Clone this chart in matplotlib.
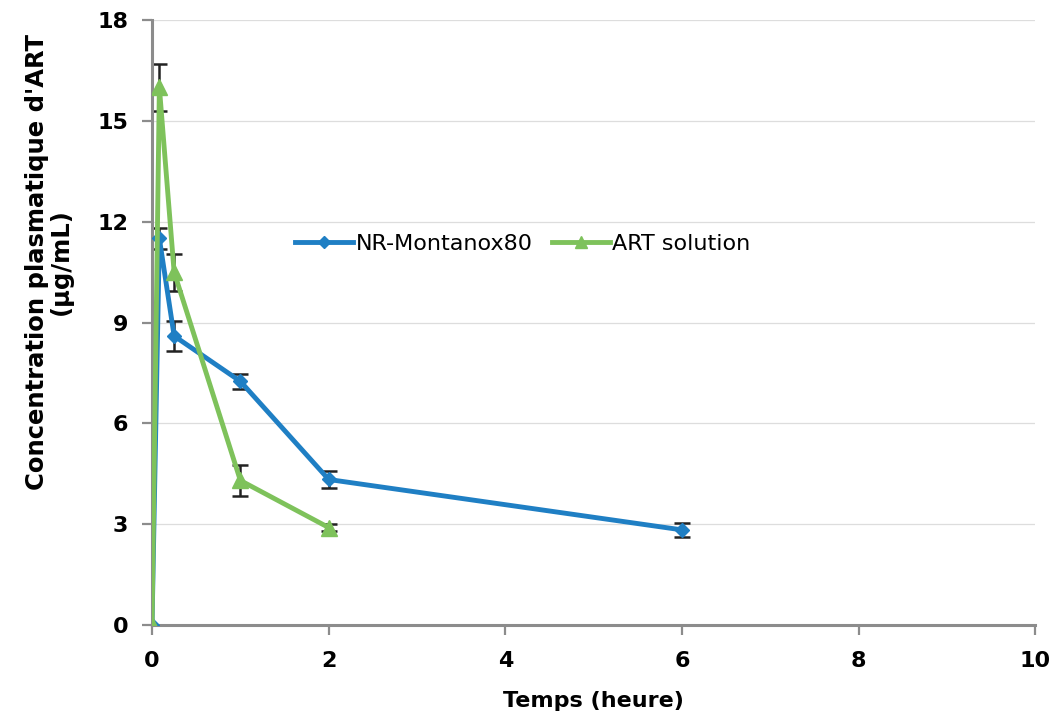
import matplotlib.pyplot as plt

# time points (hours)
t_nr = [0, 0.083, 0.25, 1, 2, 6]
c_nr = [0, 11.5, 8.6, 7.25, 4.33, 2.83]
err_nr = [0, 0.3, 0.45, 0.22, 0.25, 0.2]

t_sol = [0, 0.083, 0.25, 1, 2]
c_sol = [0, 16.0, 10.5, 4.3, 2.9]
err_sol = [0, 0.7, 0.55, 0.45, 0.1]

x_ticks = [0, 2, 4, 6, 8, 10]
y_ticks = [0, 3, 6, 9, 12, 15, 18]

BLUE = "#1f7fc4"
GREEN = "#7ec25b"
AXIS_GREY = "#8c8c8c"

plt.rcParams["font.family"] = "DejaVu Sans"

fig = plt.figure(figsize=(10.58, 7.22), dpi=100)
ax = fig.add_axes([0.1437, 0.1343, 0.835, 0.838])

ax.errorbar(t_nr, c_nr, yerr=err_nr, fmt="none", ecolor="#222222", elinewidth=1.8,
            capsize=6, capthick=1.8, zorder=2)
ax.errorbar(t_sol, c_sol, yerr=err_sol, fmt="none", ecolor="#222222", elinewidth=1.8,
            capsize=6, capthick=1.8, zorder=2)

ax.plot(t_nr, c_nr, color=BLUE, lw=3.5, marker="D", ms=7.5, label="NR-Montanox80", zorder=3)
ax.plot(t_sol, c_sol, color=GREEN, lw=3.5, marker="^", ms=11, label="ART solution", zorder=4)

ax.set_xlim(0, 10)
ax.set_ylim(0, 18)
ax.set_xticks(x_ticks)
ax.set_yticks(y_ticks)
ax.tick_params(axis="both", labelsize=16, colors=AXIS_GREY, width=1.6, length=7)
ax.tick_params(axis="x", pad=12)
ax.tick_params(axis="y", pad=10)
for lab in ax.get_xticklabels() + ax.get_yticklabels():
    lab.set_fontweight("bold")
    lab.set_color("black")

ax.grid(axis="y", color="#dddddd", lw=0.9)
ax.set_axisbelow(True)
for s in ["top", "right"]:
    ax.spines[s].set_visible(False)
for s in ["left", "bottom"]:
    ax.spines[s].set_color(AXIS_GREY)
    ax.spines[s].set_linewidth(2.2)

ax.set_xlabel("Temps (heure)", fontsize=16, fontweight="bold", labelpad=14)
ax.set_ylabel("Concentration plasmatique d'ART\n(µg/mL)", fontsize=17.5, fontweight="bold",
              linespacing=1.0)
ax.yaxis.set_label_coords(-0.09, 0.60)

ax.legend(loc="center", bbox_to_anchor=(0.42, 0.63), ncol=2, frameon=False, fontsize=16,
          handlelength=2.6, handletextpad=0.1, columnspacing=0.9, markerscale=0.8)

fig.savefig("out.png", dpi=100, facecolor="white")
